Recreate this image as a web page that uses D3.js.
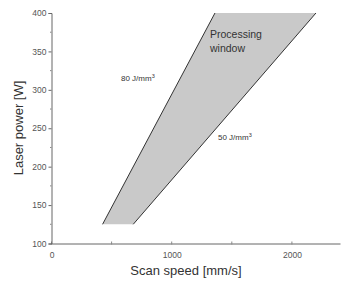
<!DOCTYPE html>
<html>
<head>
<meta charset="utf-8">
<script src="https://cdn.jsdelivr.net/npm/d3@7"></script>
<style>
  body { margin: 0; background: #fff; }
  text { font-family: Arial, "Liberation Sans", sans-serif; }
</style>
</head>
<body>
<div id="chart"></div>
<script>
// values
const power = [125, 400];          // W
const speed80 = [425, 1360];       // mm/s at 80 J/mm3
const speed50 = [680, 2200];       // mm/s at 50 J/mm3
const xTicks = [0, 1000, 2000];
const yTicks = [100, 150, 200, 250, 300, 350, 400];

const width = 343, height = 283;
const margin = { top: 13, right: 3, bottom: 40, left: 51.5 };

const svg = d3.select('#chart')
  .append('svg')
  .attr('width', width)
  .attr('height', height);

const x = d3.scaleLinear()
  .domain([0, 2400])
  .range([margin.left, width - margin.right]);

const y = d3.scaleLinear()
  .domain([100, 400])
  .range([height - margin.bottom + 0.5, margin.top]);

// processing window polygon
const poly = [
  [speed80[0], power[0]],
  [speed80[1], power[1]],
  [speed50[1], power[1]],
  [speed50[0], power[0]]
];
svg.append('path')
  .attr('d', d3.line().x(d => x(d[0])).y(d => y(d[1]))(poly) + 'Z')
  .attr('fill', '#c9c9c9')
  .attr('stroke', 'none');

// boundary lines
[speed80, speed50].forEach(s => {
  svg.append('line')
    .attr('x1', x(s[0])).attr('y1', y(power[0]))
    .attr('x2', x(s[1])).attr('y2', y(power[1]))
    .attr('stroke', '#333')
    .attr('stroke-width', 1);
});

// axes
const xAxis = svg.append('g')
  .attr('transform', `translate(0,${y(100)})`)
  .call(d3.axisBottom(x).tickValues(xTicks).tickFormat(d3.format('d')).tickSize(0).tickPadding(8));
xAxis.select('.domain').attr('stroke', '#666');
xAxis.selectAll('.tick text').attr('font-size', 8.5).attr('fill', '#555');

svg.append('g')
  .attr('transform', `translate(0,${y(100)})`)
  .selectAll('line')
  .data(d3.range(0, 2401, 500))
  .join('line')
  .attr('x1', d => x(d)).attr('x2', d => x(d))
  .attr('y1', -2).attr('y2', 1)
  .attr('stroke', '#888');

const yAxis = svg.append('g')
  .attr('transform', `translate(${x(0)},0)`)
  .call(d3.axisLeft(y).tickValues(yTicks).tickFormat(d3.format('d')).tickSize(3).tickPadding(2));
yAxis.select('.domain').attr('stroke', '#666');
yAxis.selectAll('.tick line').attr('stroke', '#666');
yAxis.selectAll('.tick text').attr('font-size', 8.5).attr('fill', '#555');

svg.append('g')
  .selectAll('line')
  .data(d3.range(125, 400, 50))
  .join('line')
  .attr('x1', x(0) - 1.5).attr('x2', x(0))
  .attr('y1', d => y(d)).attr('y2', d => y(d))
  .attr('stroke', '#888');

// axis titles
svg.append('text')
  .attr('x', 186)
  .attr('y', 275)
  .attr('text-anchor', 'middle')
  .attr('font-size', 13)
  .attr('fill', '#333')
  .text('Scan speed [mm/s]');

svg.append('text')
  .attr('transform', 'rotate(-90)')
  .attr('x', -128)
  .attr('y', 23)
  .attr('text-anchor', 'middle')
  .attr('font-size', 13)
  .attr('fill', '#333')
  .text('Laser power [W]');

// annotations
const note = svg.append('text')
  .attr('x', 210)
  .attr('font-size', 10.5)
  .attr('fill', '#333');
note.append('tspan').attr('x', 210).attr('y', 38).text('Processing');
note.append('tspan').attr('x', 210).attr('y', 52).text('window');

svg.append('text')
  .attr('x', 121).attr('y', 81)
  .attr('font-size', 8).attr('fill', '#333')
  .text('80 J/mm')
  .append('tspan').attr('dy', -3).attr('font-size', 5.5).text('3');

svg.append('text')
  .attr('x', 218).attr('y', 140)
  .attr('font-size', 8).attr('fill', '#333')
  .text('50 J/mm')
  .append('tspan').attr('dy', -3).attr('font-size', 5.5).text('3');
</script>
</body>
</html>
